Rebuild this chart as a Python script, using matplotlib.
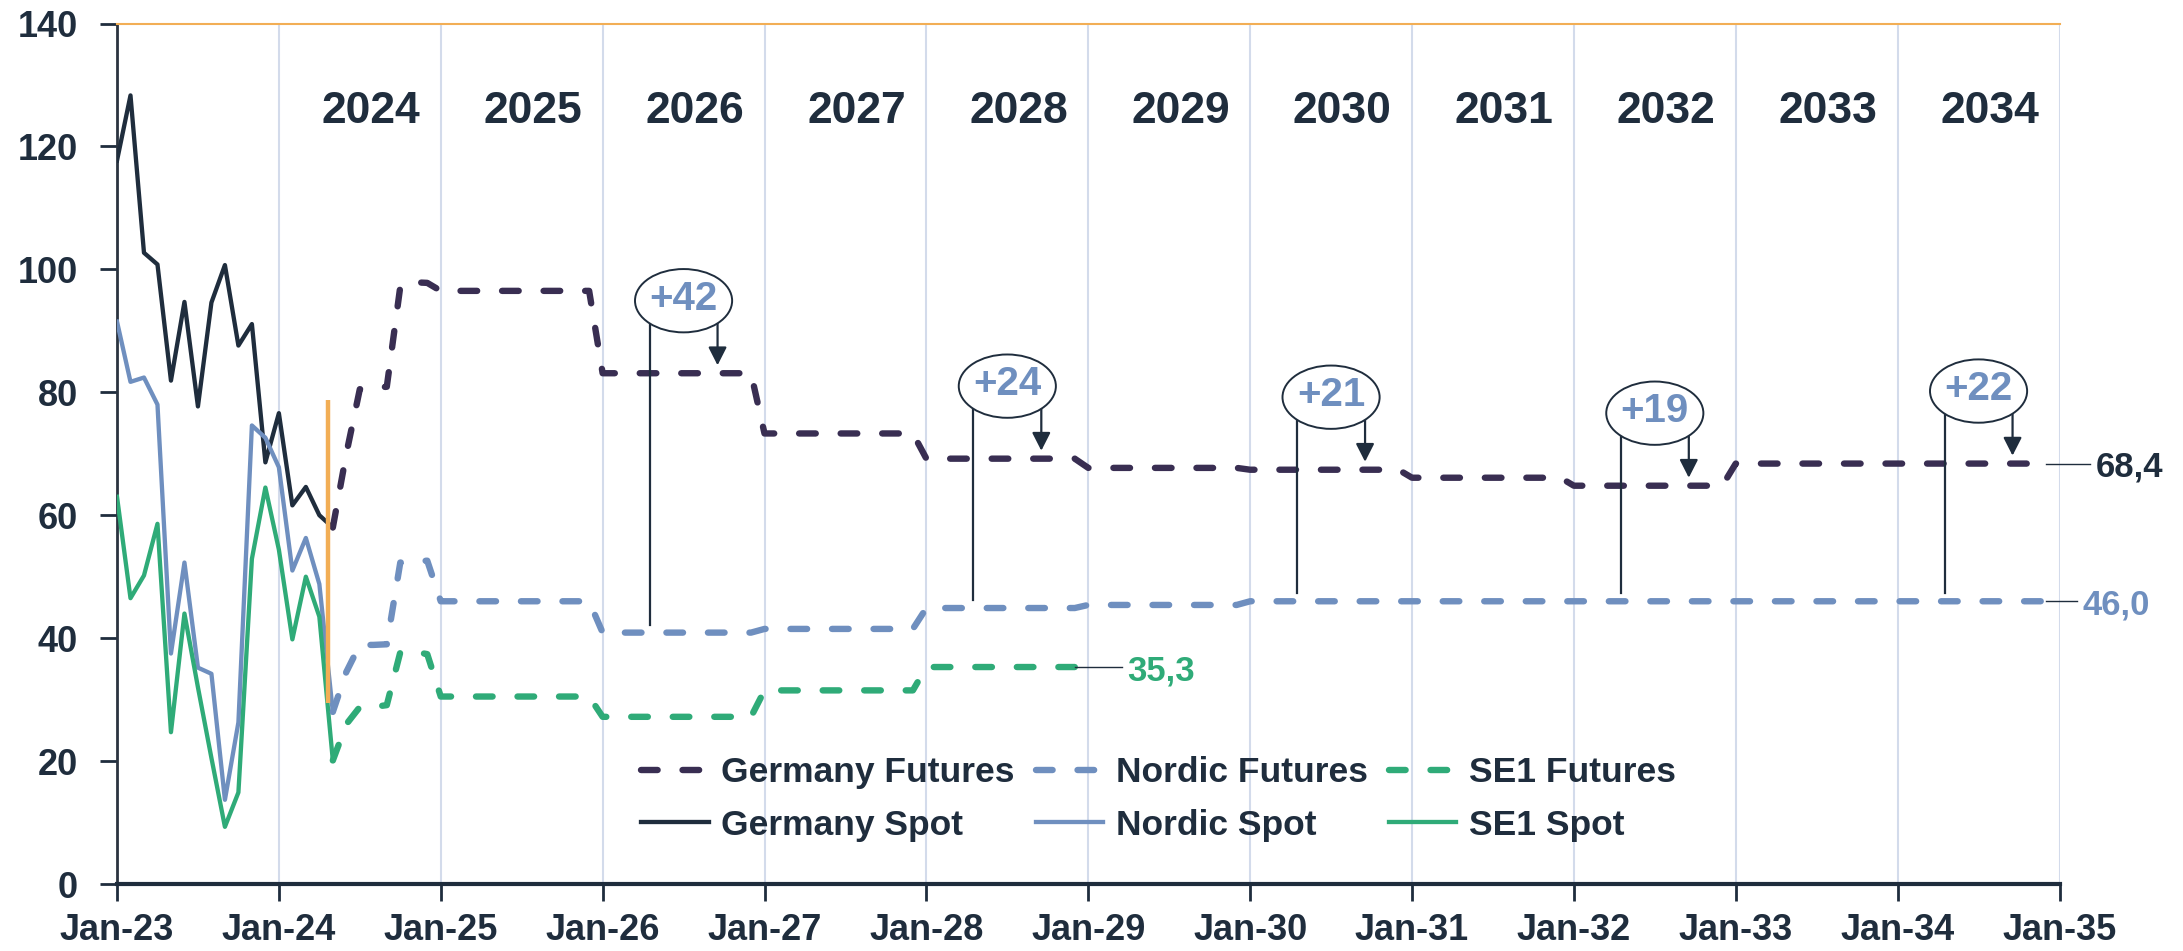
import numpy as np
import matplotlib.pyplot as plt
from matplotlib.patches import Ellipse

plt.rcParams['font.family'] = ['Liberation Sans', 'DejaVu Sans']
plt.rcParams['font.weight'] = 'bold'

# Monthly spot prices, Jan-23 .. Apr-24
germany_spot = [117.7, 128.3, 102.7, 100.8, 81.9, 94.7, 77.7, 94.6,
                100.7, 87.6, 91.1, 68.6, 76.6, 61.6, 64.6, 60.0]
nordic_spot = [91.5, 81.7, 82.4, 78.0, 37.5, 52.3, 35.2, 34.2,
               13.7, 26.3, 74.6, 72.6, 67.8, 51.0, 56.3, 48.8]
se1_spot = [63.0, 46.5, 50.2, 58.6, 24.7, 44.0, 32.0, 20.5,
            9.3, 14.9, 52.9, 64.5, 54.4, 39.8, 50.0, 43.5]

# Monthly futures, May-24 .. Dec-24
germany_fut_2024 = [58.0, 70.0, 80.5, 80.7, 80.9, 97.2, 97.9, 97.8]
nordic_fut_2024 = [28.0, 34.5, 38.9, 38.9, 39.0, 52.3, 52.5, 52.6]
se1_fut_2024 = [20.1, 26.0, 28.8, 28.8, 29.1, 37.7, 37.8, 37.4]

# Yearly futures
years_de = list(range(2025, 2035))
germany_fut_year = [96.5, 83.1, 73.3, 69.2, 67.7, 67.4, 66.1, 64.8, 68.4, 68.4]
nordic_fut_year = [46.0, 40.9, 41.5, 44.9, 45.4, 46.0, 46.0, 46.0, 46.0, 46.0]
years_se1 = [2025, 2026, 2027, 2028]
se1_fut_year = [30.5, 27.2, 31.5, 35.3]

year_labels = list(range(2024, 2035))
spread_years = [2026, 2028, 2030, 2032, 2034]
today = 2024.305
today_range = (29.4, 78.7)

dark = '#1f2d3d'
c_de_fut = '#392e52'
c_nordic = '#6f8fbf'
c_se1 = '#2fab78'
c_orange = '#f2ae55'
c_grid = '#d3dbeb'


def futures_xy(vals_2024, years, yearly):
    x = list(2024 + np.arange(4, 12) / 12)
    y = list(vals_2024)
    for yr, v in zip(years, yearly):
        x += [yr, yr + 11 / 12]
        y += [v, v]
    return np.array(x), np.array(y)


fig = plt.figure(figsize=(21.83, 9.51), dpi=100)
ax = fig.add_axes([117 / 2183, 1 - 884 / 951, (2059.5 - 117) / 2183, (884 - 23.5) / 951])

spot_x = 2023 + np.arange(len(germany_spot)) / 12
fut_style = dict(lw=4.6, dashes=(2.6, 3.9), dash_capstyle='round', zorder=4)

handles = []
for spot, f24, yrs, fy, col_s, col_f, name in [
        (germany_spot, germany_fut_2024, years_de, germany_fut_year, dark, c_de_fut, 'Germany'),
        (nordic_spot, nordic_fut_2024, years_de, nordic_fut_year, c_nordic, c_nordic, 'Nordic'),
        (se1_spot, se1_fut_2024, years_se1, se1_fut_year, c_se1, c_se1, 'SE1')]:
    fx, fy_arr = futures_xy(f24, yrs, fy)
    sx = np.append(spot_x, fx[0])
    sy = np.append(spot, fy_arr[0])
    ls, = ax.plot(sx, sy, color=col_s, lw=3.1, zorder=3, label=f'{name} Spot')
    lf, = ax.plot(fx, fy_arr, color=col_f, label=f'{name} Futures', **fut_style)
    handles.append((lf, ls))

# today marker
ax.vlines(today, *today_range, color=c_orange, lw=3.2, zorder=5)

# end value labels
for fx_end, val, col, lead in [(years_de[-1] + 11 / 12, germany_fut_year[-1], dark, 0.27),
                               (years_de[-1] + 11 / 12, nordic_fut_year[-1], c_nordic, 0.19),
                               (years_se1[-1] + 11 / 12, se1_fut_year[-1], c_se1, 0.29)]:
    ax.plot([fx_end, fx_end + lead], [val, val], color=dark, lw=1.0, zorder=5, clip_on=False)
    ax.text(fx_end + lead + 0.035, val, f'{val:.1f}'.replace('.', ','), color=col,
            fontsize=25, fontweight='bold', ha='left', va='center_baseline', clip_on=False)

# spread annotations
ow, oh = 0.6, 10.3
for yr in spread_years:
    g = germany_fut_year[years_de.index(yr)]
    n = nordic_fut_year[years_de.index(yr)]
    cx, cy = yr + 0.5, g + 11.8
    dx = 0.21
    edge = cy - (oh / 2) * np.sqrt(1 - (dx / (ow / 2)) ** 2)
    ax.add_patch(Ellipse((cx, cy), ow, oh, facecolor='white', edgecolor=dark, lw=1.4, zorder=7))
    ax.text(cx, cy + 0.3, f'+{g - n:.0f}', color=c_nordic, fontsize=29, fontweight='bold',
            ha='center', va='center', zorder=8)
    ax.plot([cx - dx, cx - dx], [edge, n + 1.3], color=dark, lw=1.6, zorder=6)
    ax.annotate('', xy=(cx + dx, g + 1.3), xytext=(cx + dx, edge),
                arrowprops=dict(arrowstyle='-|>,head_length=0.55,head_width=0.28',
                                mutation_scale=20, color=dark, lw=1.6,
                                shrinkA=0, shrinkB=0), zorder=6)

# year labels
for yr in year_labels:
    ax.text(yr + 0.57, 125.7, str(yr), fontsize=32, fontweight='bold', color=dark,
            ha='center', va='center')

ax.set_xlim(2023, 2035)
ax.set_ylim(0, 140)
ax.set_xticks(range(2023, 2036))
ax.set_xticklabels([f'Jan-{y % 100:02d}' for y in range(2023, 2036)])
ax.set_yticks(range(0, 141, 20))
ax.grid(axis='x', color=c_grid, lw=1.5, zorder=0)
ax.set_axisbelow(True)
ax.tick_params(axis='x', length=12, width=2, color=dark, labelsize=26, labelcolor=dark, pad=9)
ax.tick_params(axis='y', length=12, width=2, color=dark, labelsize=26, labelcolor=dark, pad=16)
for lab in ax.get_xticklabels() + ax.get_yticklabels():
    lab.set_fontweight('bold')
ax.spines['right'].set_visible(False)
ax.spines['top'].set_color(c_orange)
ax.spines['top'].set_linewidth(1.5)
ax.spines['left'].set_color('#2b3440')
ax.spines['left'].set_linewidth(2)
ax.spines['bottom'].set_color(dark)
ax.spines['bottom'].set_linewidth(3)

order = [handles[0][0], handles[0][1], handles[1][0], handles[1][1], handles[2][0], handles[2][1]]
ax.legend(handles=order, labels=[h.get_label() for h in order], ncol=3,
          loc='center left', bbox_to_anchor=(0.27, 0.099), frameon=False,
          prop={'size': 25.5, 'weight': 'bold'}, labelcolor=dark,
          handlelength=1.9, handletextpad=0.35, columnspacing=0.6, labelspacing=0.55,
          borderpad=0, borderaxespad=0)

fig.savefig('out.png', dpi=100)
